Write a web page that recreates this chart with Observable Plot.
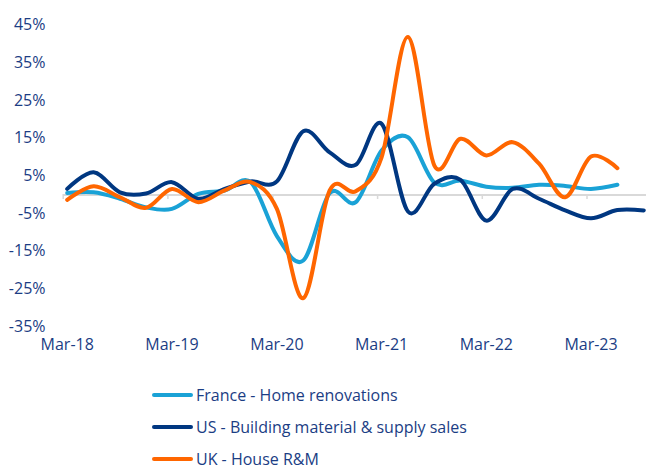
<!DOCTYPE html>
<html><head><meta charset="utf-8">
<script src="https://cdn.jsdelivr.net/npm/d3@7"></script>
<script src="https://cdn.jsdelivr.net/npm/@observablehq/plot@0.6"></script>
<style>
body{margin:0;background:#fff;font-family:"Open Sans",sans-serif;color:#1b3d84;overflow:hidden}
#legend{padding-left:152px;margin-top:21px}
.row{display:flex;align-items:center;height:18px;line-height:18px;font-size:16px;white-space:nowrap;margin-bottom:14px}
.row:last-child{margin-bottom:0}
.sw{width:41px;height:4px;border-radius:2px;margin-right:3px;flex:none}
</style></head><body>
<div id="chart"></div><div id="legend"></div>
<script>
const quarters = ["2018-03","2018-06","2018-09","2018-12","2019-03","2019-06","2019-09","2019-12",
  "2020-03","2020-06","2020-09","2020-12","2021-03","2021-06","2021-09","2021-12",
  "2022-03","2022-06","2022-09","2022-12","2023-03","2023-06","2023-09"];
const seriesNames = ["France - Home renovations","US - Building material & supply sales","UK - House R&M"];
const seriesColors = ["#1aa2d6","#003781","#ff6600"];
const france = [0.4, 0.6, -1.1, -3.4, -3.8, 0.2, 1.1, 3.3, -11, -17.5, 0.4, -2, 11.7, 15.2, 3.2, 3.7, 2.1, 1.8, 2.6, 2.3, 1.5, 2.6];
const us = [1.5, 5.9, 0.6, 0.3, 3.3, -1.1, 1.5, 3.5, 3.5, 16.8, 11.2, 7.9, 18.8, -4.5, 2.9, 3.9, -6.9, 1.5, -1.1, -4.2, -6.3, -4.1, -4.2];
const uk = [-1.4, 2.2, -0.7, -3.5, 1.5, -2.0, 1.1, 3.3, -3.8, -27.5, 1.1, 0.9, 9.9, 41.8, 7.7, 14.8, 10.4, 13.9, 8.2, -0.7, 10.1, 7.0];
const yTicks = [-35, -25, -15, -5, 5, 15, 25, 35, 45];
const xTicks = ["2018-03","2019-03","2020-03","2021-03","2022-03","2023-03"];

const toDate = s => new Date(s + "-01T00:00:00Z");
const allSeries = [france, us, uk];
const rows = allSeries.flatMap((vals, k) => vals.map((v, i) => ({date: toDate(quarters[i]), value: v, series: seriesNames[k]})));
const tickDates = xTicks.map(toDate);

const chart = Plot.plot({
  width: 646, height: 365,
  marginLeft: 63, marginRight: 0, marginTop: 24, marginBottom: 35,
  style: {fontFamily: "'Open Sans', sans-serif", fontSize: "16px", color: "#1b3d84", background: "#fff"},
  x: {type: "utc", domain: [tickDates[0], tickDates[5]], range: [66.7, 590.5]},
  y: {domain: [-35, 45], range: [326, 24.5]},
  color: {domain: seriesNames, range: seriesColors},
  marks: [
    Plot.ruleY([0], {stroke: "#d9d9d9", strokeWidth: 2, dy: 0.4}),
    Plot.ruleX(tickDates, {x: d => d, y1: 0, y2: -1.3, dx: -4, stroke: "#d9d9d9", strokeWidth: 1.5}),
    ...seriesNames.map(name => Plot.line(rows.filter(r => r.series === name), {
      x: "date", y: "value", stroke: "series", strokeWidth: 4,
      curve: "cardinal", tension: 0, strokeLinecap: "round", strokeLinejoin: "round"
    })),
    Plot.axisY({ticks: yTicks, tickFormat: d => d + "%", tickSize: 0, tickPadding: 18, label: null, fontSize: 16}),
    Plot.axisX({ticks: tickDates, tickFormat: d3.utcFormat("%b-%y"), tickSize: 0, tickPadding: 8.6, label: null, fontSize: 16})
  ]
});
document.getElementById("chart").appendChild(chart);

const legend = document.getElementById("legend");
seriesNames.forEach((name, k) => {
  const row = document.createElement("div");
  row.className = "row";
  const sw = document.createElement("span");
  sw.className = "sw";
  sw.style.background = seriesColors[k];
  const tx = document.createElement("span");
  tx.textContent = name;
  row.appendChild(sw); row.appendChild(tx);
  legend.appendChild(row);
});
</script>
</body></html>
